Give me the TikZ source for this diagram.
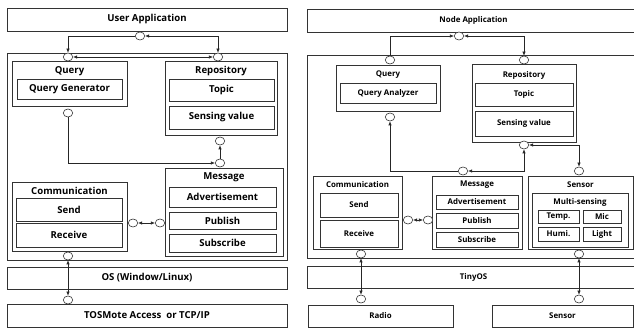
\documentclass[tikz,border=0pt]{standalone}
\usepackage{fontspec}
\setmainfont{Open Sans}
\usetikzlibrary{shapes.geometric, arrows.meta, positioning}

\begin{document}
\begin{tikzpicture}[
    x=1pt, y=-1pt,
    box/.style={
        rectangle,
        draw=black!80,
        fill=white,
        line width=0.7pt,
        inner sep=0pt
    },
    ltext/.style={font=\fontsize{9.6}{11}\selectfont\bfseries},
    rtext/.style={font=\fontsize{7.9}{9}\selectfont\bfseries},
    title/.style={inner sep=0pt},
    port/.style={
        ellipse,
        draw=black!80,
        fill=white,
        line width=0.6pt,
        minimum width=9.5pt,
        minimum height=8pt,
        inner sep=0pt
    },
    link/.style={
        line width=0.6pt,
        black!85,
        >={Latex[length=4pt,width=3.4pt]}
    }
]
\useasboundingbox (0,0) rectangle (634,328);
\clip (0,0) rectangle (634,328);

% ---------------- Left: user side ----------------
\node[box, ltext, minimum width=280, minimum height=23] (uapp) at (147,19.5) {User Application};
\node[box, minimum width=280, minimum height=207] (lcont) at (147,156.5) {};

% Query
\node[box, minimum width=115, minimum height=45] (lquery) at (69.5,83.5) {};
\node[title, ltext] (lquery-t) at (69.5,71.5) {Query};
\node[box, ltext, minimum width=105, minimum height=20] (lqgen) at (69.5,89) {Query Generator};

% Repository
\node[box, minimum width=112, minimum height=74] (lrepo) at (221,98) {};
\node[title, ltext] (lrepo-t) at (221,71.5) {Repository};
\node[box, ltext, minimum width=105, minimum height=22] (ltopic) at (221.5,90) {Topic};
\node[box, ltext, minimum width=105, minimum height=23] (lsense) at (221.5,117.5) {Sensing value};

% Message
\node[box, minimum width=118, minimum height=88] (lmsg) at (224,212) {};
\node[title, ltext] (lmsg-t) at (224,177) {Message};
\node[box, ltext, minimum width=107, minimum height=20] (ladv) at (222.5,197) {Advertisement};
\node[box, ltext, minimum width=107, minimum height=17] (lpub) at (222.5,220.5) {Publish};
\node[box, ltext, minimum width=107, minimum height=18] (lsub) at (222.5,243) {Subscribe};

% Communication
\node[box, minimum width=115, minimum height=69] (lcomm) at (69.5,216.5) {};
\node[title, ltext] (lcomm-t) at (69.5,190.5) {Communication};
\node[box, ltext, minimum width=106, minimum height=23] (lsend) at (69,209.5) {Send};
\node[box, ltext, minimum width=106, minimum height=24] (lrecv) at (69,235) {Receive};

% OS and access layer
\node[box, ltext, fill=none, minimum width=280, minimum height=22] (los) at (147,278) {OS (Window/Linux)};
\node[box, ltext, minimum width=280, minimum height=23] (ltos) at (147,315.5) {TOSMote Access\ \ or TCP/IP};

% ports
\node[port] (lpu) at (140,36) {};
\node[port] (lpq1) at (68,57) {};
\node[port] (lpr1) at (218,57) {};
\node[port] (lpq2) at (68,113) {};
\node[port] (lpr2) at (220,141) {};
\node[port] (lpm1) at (220,163) {};
\node[port] (lpc) at (133,223) {};
\node[port] (lpm2) at (160,223) {};
\node[port] (lpc2) at (68,256) {};
\node[port] (lpt) at (68,300) {};

% connectors
\draw[link, ->] (lpu.west) -| (lpq1.north);
\draw[link, <->] (lpu.east) -| (lpr1.north);
\draw[link, <->] (lpq1) -- (lpr1);
\draw[link, ->] (lpq2.south) |- (lpm1.west);
\draw[link, ->] (lpm1) -- (lpr2);
\draw[link, <->] (lpc) -- (lpm2);
\draw[link, <->] (lpc2) -- (lpt);

% ---------------- Right: node side ----------------
\node[box, rtext, minimum width=333, minimum height=23] (napp) at (473.5,20.5) {Node Application};
\node[box, minimum width=333, minimum height=203] (rcont) at (473.5,156.5) {};

% Query
\node[box, minimum width=104, minimum height=46] (rquery) at (388,88) {};
\node[title, rtext] (rquery-t) at (388,75) {Query};
\node[box, rtext, minimum width=96, minimum height=20] (rqan) at (388,93) {Query Analyzer};

% Repository
\node[box, minimum width=104, minimum height=78] (rrepo) at (524,103) {};
\node[title, rtext] (rrepo-t) at (524,75) {Repository};
\node[box, rtext, minimum width=98, minimum height=23] (rtopic) at (524,94.5) {Topic};
\node[box, rtext, minimum width=98, minimum height=25] (rsense) at (524,123.5) {Sensing value};

% Communication
\node[box, minimum width=89, minimum height=73] (rcomm) at (357.5,212.5) {};
\node[title, rtext] (rcomm-t) at (357.5,185) {Communication};
\node[box, rtext, minimum width=78, minimum height=24] (rsend) at (359,205) {Send};
\node[box, rtext, minimum width=78, minimum height=27] (rrecv) at (359,233.5) {Receive};

% Message
\node[box, minimum width=90, minimum height=73] (rmsg) at (477,212.5) {};
\node[title, rtext] (rmsg-t) at (477,185) {Message};
\node[box, rtext, minimum width=82, minimum height=14] (radv) at (477,202) {Advertisement};
\node[box, rtext, minimum width=82, minimum height=15] (rpub) at (477,220.5) {Publish};
\node[box, rtext, minimum width=82, minimum height=15] (rsub) at (477,239.5) {Subscribe};

% Sensor
\node[box, minimum width=105, minimum height=73] (rsens) at (580.5,212.5) {};
\node[title, rtext] (rsens-t) at (580.5,185) {Sensor};
\node[box, minimum width=96, minimum height=54] (rmulti) at (580,220) {};
\node[title, rtext] (rmulti-t) at (580,202) {Multi-sensing};
\node[box, rtext, minimum width=41, minimum height=13] (rtemp) at (558.5,216.5) {Temp.};
\node[box, rtext, minimum width=38, minimum height=13] (rmic) at (602,216.5) {Mic};
\node[box, rtext, minimum width=41, minimum height=14] (rhumi) at (558.5,234) {Humi.};
\node[box, rtext, minimum width=38, minimum height=14] (rlight) at (602,234) {Light};

% TinyOS and devices
\node[box, rtext, fill=none, minimum width=333, minimum height=22] (tinyos) at (473.5,277) {TinyOS};
\node[box, rtext, minimum width=145, minimum height=22] (radio) at (380.5,316) {Radio};
\node[box, rtext, minimum width=141, minimum height=22] (sensdev) at (562.5,316) {Sensor};

% ports
\node[port] (rpn) at (459,36) {};
\node[port] (rpq1) at (390,60) {};
\node[port] (rpr1) at (524,60) {};
\node[port] (rpq2) at (390,117) {};
\node[port] (rpr2) at (524,145) {};
\node[port] (rpm1) at (463,171) {};
\node[port] (rps1) at (579,171) {};
\node[port] (rpc) at (408,220) {};
\node[port] (rpm2) at (428,220) {};
\node[port] (rpc2) at (361,254) {};
\node[port] (rps2) at (579,254) {};
\node[port] (rpr) at (361,299) {};
\node[port] (rpsd) at (579,299) {};

% connectors
\draw[link, ->] (rpq1.north) |- (rpn.west);
\draw[link, <->] (rpn.east) -| (rpr1.north);
\draw[link, ->] (rpm1.west) -| (rpq2.south);
\draw[link, <->] (rpm1.east) -| (rpr2.south);
\draw[link, <->] (rpr2.east) -| (rps1.north);
\draw[link, <->] (rpc) -- (rpm2);
\draw[link, <->] (rpc2) -- (rpr);
\draw[link, <->] (rps2) -- (rpsd);

\end{tikzpicture}
\end{document}
